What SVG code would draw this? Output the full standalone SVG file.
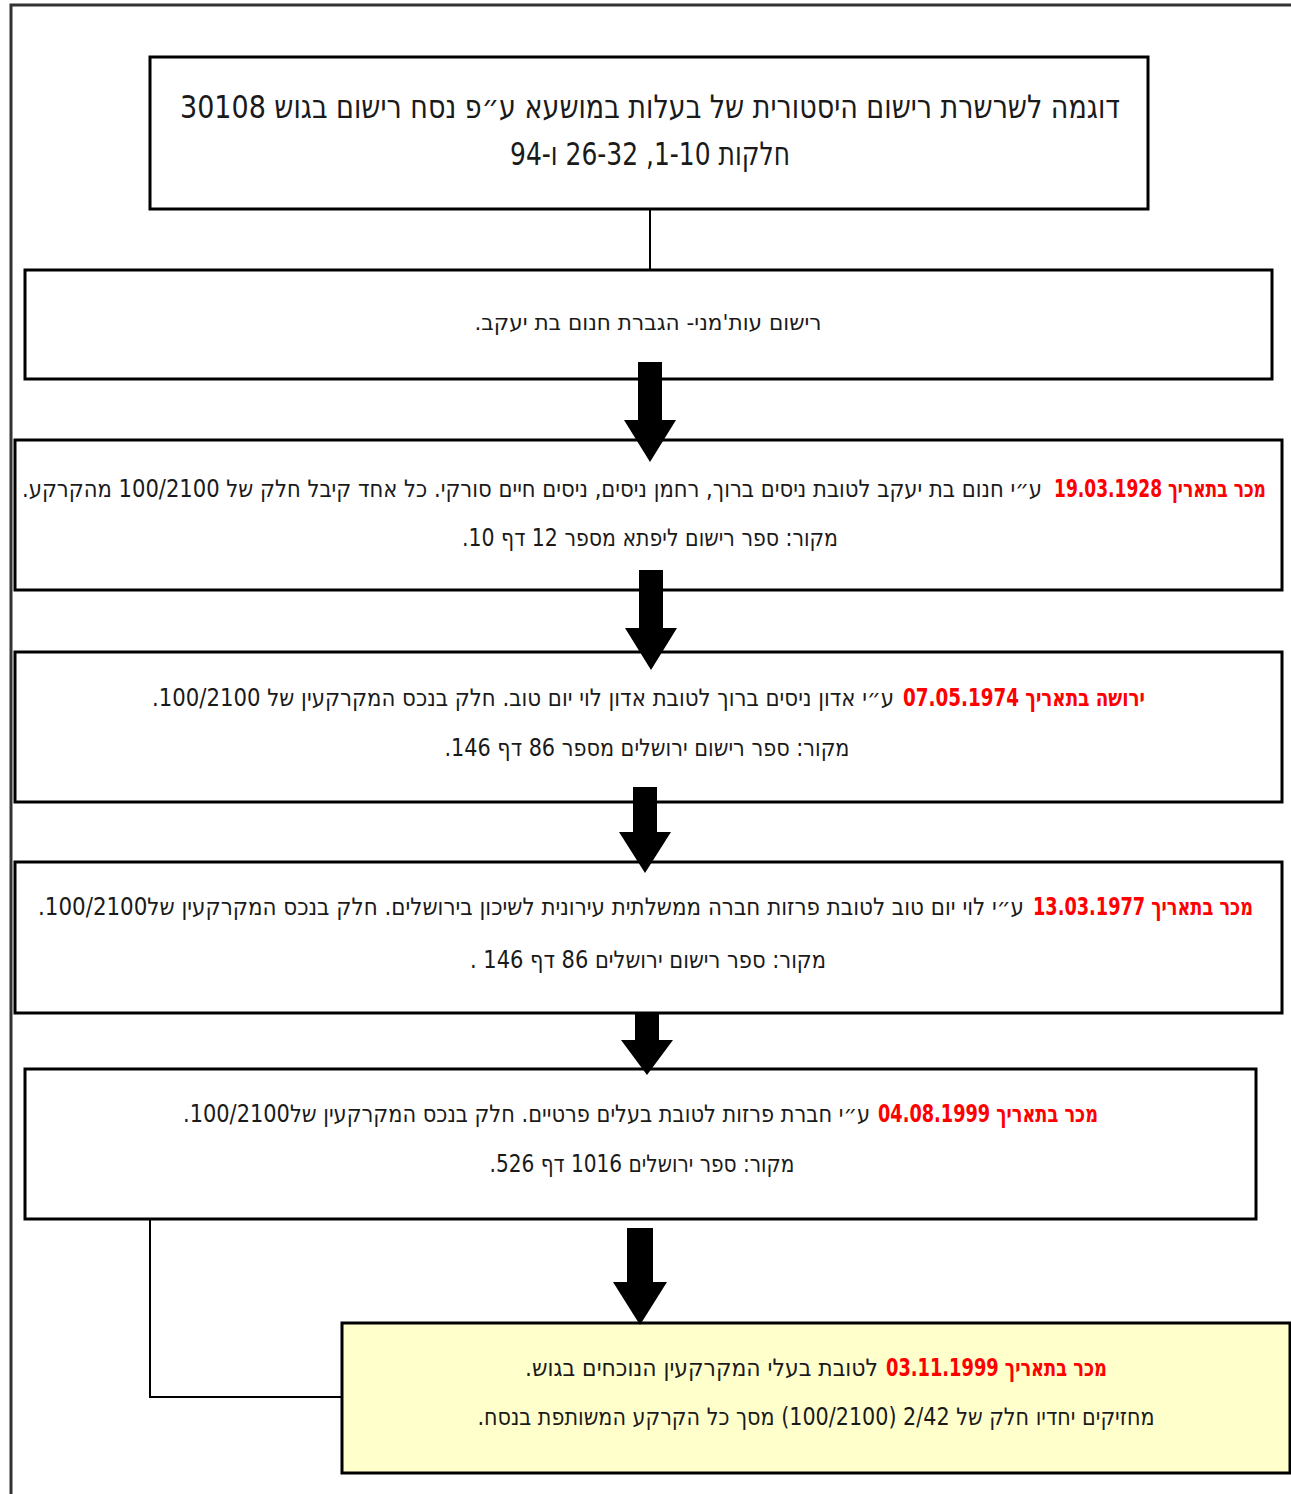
<svg xmlns="http://www.w3.org/2000/svg" width="1291" height="1494" viewBox="0 0 1291 1494">
<defs>
<style>
.box{fill:#fff;stroke:#000;stroke-width:3}
.hl{fill:#FFFFCC;stroke:#000;stroke-width:3}
.t{font-family:"DejaVu Sans Condensed","DejaVu Sans","Liberation Sans",sans-serif;fill:#1a1a1a;text-anchor:middle;direction:rtl}
.s{text-anchor:start}
.e{text-anchor:end}
.r{fill:#FF0000;font-weight:bold}
.ln{fill:none;stroke:#000;stroke-width:2}
.ar{fill:#000}
</style>
</defs>
<rect width="1291" height="1494" fill="#fff"/>
<path d="M11 1494 V5 H1291" fill="none" stroke="#333" stroke-width="3"/>
<g id="title">
<rect class="box" x="150" y="57" width="998" height="152"/>
<text class="t" x="650" y="118" font-size="32" textLength="940" lengthAdjust="spacingAndGlyphs">דוגמה לשרשרת רישום היסטורית של בעלות במושעא ע״פ נסח רישום בגוש 30108</text>
<text class="t" x="650" y="165" font-size="32" textLength="280" lengthAdjust="spacingAndGlyphs">חלקות 1-10, 26-32 ו-94</text>
</g>
<g id="n1">
<rect class="box" x="25" y="270" width="1247" height="109"/>
<text class="t" x="648" y="330" font-size="22" textLength="347" lengthAdjust="spacingAndGlyphs">רישום עות'מני- הגברת חנום בת יעקב.</text>
</g>
<g id="n2">
<rect class="box" x="15" y="440" width="1267" height="150"/>
<text class="t s r" x="1266" y="497" font-size="24" textLength="212" lengthAdjust="spacingAndGlyphs">מכר בתאריך 19.03.1928</text>
<text class="t e" x="22" y="497" font-size="24" textLength="1020" lengthAdjust="spacingAndGlyphs">ע״י חנום בת יעקב לטובת ניסים ברוך, רחמן ניסים, ניסים חיים סורקי. כל אחד קיבל חלק של 100/2100 מהקרקע.</text>
<text class="t" x="650" y="546" font-size="24" textLength="376" lengthAdjust="spacingAndGlyphs">מקור: ספר רישום ליפתא מספר 12 דף 10.</text>
</g>
<g id="n3">
<rect class="box" x="15" y="652" width="1267" height="150"/>
<text class="t s r" x="1145" y="706" font-size="24" textLength="242" lengthAdjust="spacingAndGlyphs">ירושה בתאריך 07.05.1974</text>
<text class="t e" x="152" y="706" font-size="24" textLength="742" lengthAdjust="spacingAndGlyphs">ע״י אדון ניסים ברוך לטובת אדון לוי יום טוב. חלק בנכס המקרקעין של 100/2100.</text>
<text class="t" x="647" y="756" font-size="24" textLength="405" lengthAdjust="spacingAndGlyphs">מקור: ספר רישום ירושלים מספר 86 דף 146.</text>
</g>
<g id="n4">
<rect class="box" x="15" y="862" width="1267" height="151"/>
<text class="t s r" x="1253" y="915" font-size="24" textLength="220" lengthAdjust="spacingAndGlyphs">מכר בתאריך 13.03.1977</text>
<text class="t e" x="38" y="915" font-size="24" textLength="986" lengthAdjust="spacingAndGlyphs">ע״י לוי יום טוב לטובת פרזות חברה ממשלתית עירונית לשיכון בירושלים. חלק בנכס המקרקעין של100/2100.</text>
<text class="t" x="648" y="968" font-size="24" textLength="356" lengthAdjust="spacingAndGlyphs">מקור: ספר רישום ירושלים 86 דף 146 .</text>
</g>
<g id="n5">
<rect class="box" x="25" y="1069" width="1231" height="150"/>
<text class="t s r" x="1098" y="1122" font-size="24" textLength="220" lengthAdjust="spacingAndGlyphs">מכר בתאריך 04.08.1999</text>
<text class="t e" x="183" y="1122" font-size="24" textLength="687" lengthAdjust="spacingAndGlyphs">ע״י חברת פרזות לטובת בעלים פרטיים. חלק בנכס המקרקעין של100/2100.</text>
<text class="t" x="642" y="1172" font-size="24" textLength="305" lengthAdjust="spacingAndGlyphs">מקור: ספר ירושלים 1016 דף 526.</text>
</g>
<g id="n6">
<rect class="hl" x="342" y="1323" width="948" height="150"/>
<text class="t s r" x="1107" y="1376" font-size="24" textLength="221" lengthAdjust="spacingAndGlyphs">מכר בתאריך 03.11.1999</text>
<text class="t e" x="525" y="1376" font-size="24" textLength="353" lengthAdjust="spacingAndGlyphs">לטובת בעלי המקרקעין הנוכחים בגוש.</text>
<text class="t" x="816" y="1425" font-size="24" textLength="677" lengthAdjust="spacingAndGlyphs">מחזיקים יחדיו חלק של 2/42 (100/2100) מסך כל הקרקע המשותפת בנסח.</text>
</g>
<g id="connectors">
<line class="ln" x1="650" y1="209" x2="650" y2="270"/>
<polyline class="ln" points="150,1219 150,1397 342,1397"/>
<polygon class="ar" points="638,362 662,362 662,420 676,420 650,462 624,420 638,420"/>
<polygon class="ar" points="639,570 663,570 663,628 677,628 651,670 625,628 639,628"/>
<polygon class="ar" points="633,787 657,787 657,832 671,832 645,873 619,832 633,832"/>
<polygon class="ar" points="635,1013 659,1013 659,1040 673,1040 647,1075 621,1040 635,1040"/>
<polygon class="ar" points="627,1228 653,1228 653,1282 667,1282 640,1325 613,1282 627,1282"/>
</g>
</svg>
